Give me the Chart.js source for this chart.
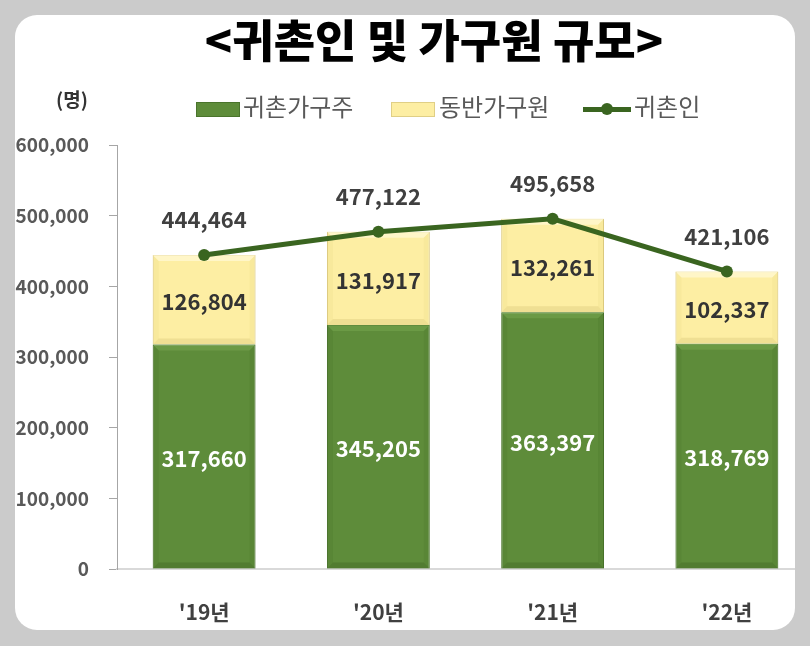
<!doctype html>
<html>
    <head>
        <meta charset="utf-8">
        <title>귀촌인 및 가구원 규모</title>
        <script src="https://cdn.jsdelivr.net/npm/chart.js@4/dist/chart.umd.min.js"></script>
        <style>
            body {
                margin: 0;
                background: #cbcbcb;
                font-family: "Noto Sans CJK KR", sans-serif;
            }
            #panel {
                position: absolute;
                left: 15px;
                top: 15px;
                width: 780px;
                height: 615px;
                background: #fff;
                border-radius: 22px;
                overflow: hidden;
            }
            #myChart {
                position: absolute;
                left: -15px;
                top: -15px;
            }
            .txt {
                position: absolute;
                white-space: nowrap;
                line-height: 1;
            }
            #title {
                left: 0;
                width: 838px;
                top: 1px;
                text-align: center;
                font-size: 45px;
                font-weight: 900;
                color: #000;
            }
            #unit {
                left: 41px;
                top: 74px;
                font-size: 19px;
                font-weight: 700;
                color: #333;
            }
            .sw {
                position: absolute;
            }
            .leg {
                font-size: 24px;
                color: #595959;
                top: 79px;
            }
        </style>
    </head>

    <body>
        <div id="panel">
            <canvas id="myChart" width="830" height="646"></canvas>
            <div class="txt" id="title">&lt;귀촌인 및 가구원 규모&gt;</div>
            <div class="txt" id="unit">(명)</div>
            <div class="sw" style="left:181px;top:87px;width:44px;height:15px;background:#5e8c3a;border:1px solid #4a742c;box-sizing:border-box;"></div>
            <div class="txt leg" style="left:228px;">귀촌가구주</div>
            <div class="sw" style="left:376px;top:87px;width:44px;height:15px;background:#fdeea3;border:1px solid #e0cf85;box-sizing:border-box;"></div>
            <div class="txt leg" style="left:424px;">동반가구원</div>
            <div class="sw" style="left:568px;top:92px;width:48px;height:5px;background:#3a6520;"></div>
            <div class="sw" style="left:586px;top:88px;width:12px;height:12px;border-radius:6px;background:#3a6520;"></div>
            <div class="txt leg" style="left:619px;">귀촌인</div>
        </div>
        <script>
            var years = ["'19년", "'20년", "'21년", "'22년"];
            var heads = [317660, 345205, 363397, 318769];
            var members = [126804, 131917, 132261, 102337];
            var totals = [444464, 477122, 495658, 421106];
            var yTicks = [0, 100000, 200000, 300000, 400000, 500000, 600000];

            var numFont = '"Noto Sans CJK KR", sans-serif';

            function fmt(v) {
                return v.toLocaleString('en-US');
            }

            // draws the numbers on the bars and above the points
            var valueLabels = {
                id: 'valueLabels',
                afterDatasetsDraw: function (chart) {
                    var ctx = chart.ctx;
                    ctx.save();
                    ctx.textAlign = 'center';
                    ctx.textBaseline = 'middle';
                    ctx.font = 'bold 22px ' + numFont;
                    chart.data.datasets.forEach(function (ds, i) {
                        var meta = chart.getDatasetMeta(i);
                        meta.data.forEach(function (el, j) {
                            var v = ds.data[j];
                            if (ds.type === 'line') {
                                ctx.fillStyle = '#404040';
                                ctx.fillText(fmt(v), el.x, el.y - 35);
                            } else {
                                ctx.fillStyle = ds.labelColor;
                                ctx.fillText(fmt(v), el.x, (el.y + el.base) / 2 + 2);
                            }
                        });
                    });
                    ctx.restore();
                }
            };

            // soft bevel on the bars
            var bevel = {
                id: 'bevel',
                afterDatasetDraw: function (chart, args) {
                    var ds = chart.data.datasets[args.index];
                    if (ds.type === 'line') return;
                    var ctx = chart.ctx;
                    ctx.save();
                    args.meta.data.forEach(function (el) {
                        var l = el.x - el.width / 2, r = el.x + el.width / 2;
                        var t = Math.min(el.y, el.base), b = Math.max(el.y, el.base);
                        var d = 6;
                        ctx.fillStyle = ds.lightEdge;
                        ctx.beginPath();
                        ctx.moveTo(l, t); ctx.lineTo(r, t); ctx.lineTo(r - d, t + d); ctx.lineTo(l + d, t + d);
                        ctx.closePath(); ctx.fill();
                        ctx.fillStyle = ds.darkEdge;
                        ctx.beginPath();
                        ctx.moveTo(l, b); ctx.lineTo(r, b); ctx.lineTo(r - d, b - d); ctx.lineTo(l + d, b - d);
                        ctx.closePath(); ctx.fill();
                        ctx.fillStyle = ds.midEdge;
                        ctx.beginPath();
                        ctx.moveTo(r, t); ctx.lineTo(r, b); ctx.lineTo(r - d, b - d); ctx.lineTo(r - d, t + d);
                        ctx.closePath(); ctx.fill();
                        ctx.beginPath();
                        ctx.moveTo(l, t); ctx.lineTo(l, b); ctx.lineTo(l + d, b - d); ctx.lineTo(l + d, t + d);
                        ctx.closePath(); ctx.fill();
                    });
                    ctx.restore();
                }
            };

            var ctx = document.getElementById('myChart').getContext('2d');
            var myChart = new Chart(ctx, {
                type: 'bar',
                data: {
                    labels: years,
                    datasets: [
                        {
                            type: 'line',
                            label: '귀촌인',
                            data: totals,
                            stack: 'line',
                            order: 0,
                            borderColor: '#3a6520',
                            backgroundColor: '#3a6520',
                            borderWidth: 5,
                            pointRadius: 6,
                            pointBackgroundColor: '#3a6520',
                            pointBorderWidth: 0,
                            tension: 0
                        },
                        {
                            label: '귀촌가구주',
                            data: heads,
                            stack: 'bar',
                            order: 1,
                            backgroundColor: '#5e8c3a',
                            borderColor: '#4a742c',
                            borderWidth: 1,
                            labelColor: '#ffffff',
                            lightEdge: 'rgba(125,170,85,0.45)',
                            midEdge: 'rgba(60,100,35,0.15)',
                            darkEdge: 'rgba(40,70,20,0.22)'
                        },
                        {
                            label: '동반가구원',
                            data: members,
                            stack: 'bar',
                            order: 1,
                            backgroundColor: '#fdeea3',
                            borderColor: '#d9c67c',
                            borderWidth: 1,
                            labelColor: '#333333',
                            lightEdge: 'rgba(255,250,215,0.7)',
                            midEdge: 'rgba(230,210,130,0.18)',
                            darkEdge: 'rgba(200,180,100,0.25)'
                        }
                    ]
                },
                options: {
                    responsive: false,
                    animation: false,
                    layout: {
                        padding: { top: 145, right: 16, bottom: 0, left: 0 }
                    },
                    datasets: {
                        bar: {
                            categoryPercentage: 1,
                            barPercentage: 0.59
                        }
                    },
                    plugins: {
                        legend: { display: false },
                        title: { display: false },
                        tooltip: { enabled: false }
                    },
                    scales: {
                        x: {
                            stacked: true,
                            grid: { display: false, drawTicks: false },
                            border: { display: true, color: '#d9d9d9', width: 2 },
                            ticks: {
                                padding: 30,
                                color: '#404040',
                                font: { family: numFont, size: 21, weight: 'bold' }
                            },
                            afterFit: function (s) { s.height = 77; }
                        },
                        y: {
                            stacked: true,
                            min: 0,
                            max: 600000,
                            afterBuildTicks: function (s) {
                                s.ticks = yTicks.map(function (v) { return { value: v }; });
                            },
                            grid: {
                                drawOnChartArea: false,
                                drawTicks: true,
                                tickLength: 8,
                                color: '#a6a6a6'
                            },
                            border: { display: true, color: '#a6a6a6', width: 1 },
                            ticks: {
                                padding: 20,
                                color: '#595959',
                                font: { family: numFont, size: 19, weight: 'bold' },
                                callback: function (v) { return fmt(v); }
                            },
                            afterFit: function (s) { s.width = 117; }
                        }
                    }
                },
                plugins: [bevel, valueLabels]
            });
        </script>
    </body>

</html>
